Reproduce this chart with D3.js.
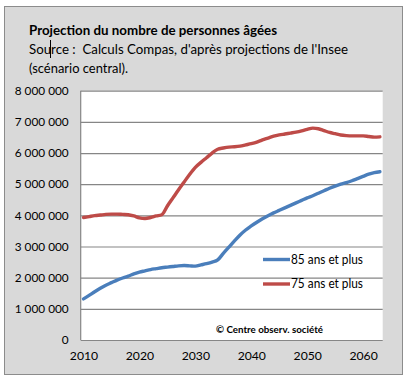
<!DOCTYPE html>
<html>
<head>
<meta charset="utf-8">
<script src="https://cdn.jsdelivr.net/npm/d3@7"></script>
<style>
  body { margin: 0; background: #fff; }
  svg text { font-family: Lato, "Open Sans", sans-serif; fill: #000; }
</style>
</head>
<body>
<svg id="chart" width="410" height="384"></svg>
<script>
// annees 2010 -> 2063, valeurs en millions
var years = d3.range(2010, 2064);
var plus75 = [3.93,3.96,3.99,4.01,4.03,4.04,4.04,4.03,4.02,3.98,
  3.92,3.90,3.93,3.98,4.02,4.30,4.56,4.82,5.07,5.32,
  5.54,5.70,5.85,6.00,6.12,6.16,6.19,6.20,6.22,6.26,
  6.30,6.35,6.42,6.48,6.54,6.58,6.61,6.64,6.67,6.71,
  6.76,6.80,6.78,6.72,6.66,6.62,6.58,6.56,6.55,6.55,
  6.55,6.53,6.51,6.52];
var plus85 = [1.32,1.43,1.55,1.66,1.76,1.84,1.92,1.99,2.05,2.12,
  2.18,2.22,2.26,2.29,2.32,2.34,2.36,2.38,2.39,2.38,
  2.37,2.41,2.45,2.50,2.57,2.78,2.98,3.18,3.37,3.53,
  3.66,3.78,3.89,3.99,4.08,4.16,4.24,4.32,4.40,4.48,
  4.56,4.63,4.71,4.79,4.87,4.94,5.00,5.05,5.11,5.18,
  5.25,5.32,5.37,5.40];
var yTicks = [0,1e6,2e6,3e6,4e6,5e6,6e6,7e6,8e6];
var xTicks = [2010,2020,2030,2040,2050,2060];
var series = [
  {name: '85 ans et plus', values: plus85, color: '#4a7ebb'},
  {name: '75 ans et plus', values: plus75, color: '#be4b48'}
];

var svg = d3.select('#chart');

// cadre gris
svg.append('rect')
  .attr('x', 4.5).attr('y', 6.5).attr('width', 398).attr('height', 368)
  .attr('fill', '#d9d9d9').attr('stroke', '#8c8c8c');

var pLeft = 80.7, pRight = 382.7, pTop = 90.7, pBottom = 340;

var x = d3.scaleLinear().domain([2009.5, 2063.5]).range([pLeft, pRight]);
var y = d3.scaleLinear().domain([0, 8e6]).range([pBottom, pTop]);

var fr = d3.formatLocale({decimal: ',', thousands: '\u00a0', grouping: [3], currency: ['', ' €']});
var fmt = fr.format(',');

svg.append('rect')
  .attr('x', pLeft).attr('y', pTop)
  .attr('width', pRight - pLeft).attr('height', pBottom - pTop)
  .attr('fill', '#fff');

// grille
svg.append('g')
  .attr('transform', 'translate(' + pLeft + ',0)')
  .call(d3.axisLeft(y).tickValues(yTicks).tickSize(-(pRight - pLeft)).tickFormat(fmt).tickPadding(12))
  .call(function(g){
    g.select('.domain').remove();
    g.selectAll('.tick line').attr('stroke', '#868686').attr('stroke-width', 1.2);
    g.selectAll('.tick text').attr('font-size', 11.8).attr('font-family', 'Lato, sans-serif').attr('fill', '#000');
  });

svg.append('g')
  .attr('transform', 'translate(0,' + pBottom + ')')
  .call(d3.axisBottom(x).tickValues(xTicks).tickSize(0).tickFormat(d3.format('d')).tickPadding(11))
  .call(function(g){
    g.select('.domain').remove();
    g.selectAll('.tick text').attr('font-size', 12.2).attr('font-family', 'Lato, sans-serif').attr('fill', '#000');
  });

// axe vertical
svg.append('line')
  .attr('x1', pLeft).attr('x2', pLeft).attr('y1', pTop).attr('y2', pBottom)
  .attr('stroke', '#868686').attr('stroke-width', 1.2);

var line = d3.line()
  .x(function(d, i){ return x(years[i]); })
  .y(function(d){ return y(d * 1e6); })
  .curve(d3.curveMonotoneX);

series.slice().reverse().forEach(function(s){
  svg.append('path')
    .datum(s.values)
    .attr('d', line)
    .attr('fill', 'none')
    .attr('stroke', s.color)
    .attr('stroke-width', 3.4)
    .attr('stroke-linecap', 'round')
    .attr('stroke-linejoin', 'round');
});

// legende
series.forEach(function(s, i){
  var ly = 259.5 + i * 24.5;
  svg.append('line')
    .attr('x1', 263).attr('x2', 290).attr('y1', ly).attr('y2', ly)
    .attr('stroke', s.color).attr('stroke-width', 3.4);
  svg.append('text')
    .attr('x', 291).attr('y', ly + 4.3)
    .attr('font-size', 12.6)
    .attr('textLength', 72).attr('lengthAdjust', 'spacingAndGlyphs')
    .text(s.name);
});

svg.append('text')
  .attr('x', 216).attr('y', 332.5)
  .attr('font-size', 9.6).attr('font-weight', 'bold')
  .attr('textLength', 107).attr('lengthAdjust', 'spacingAndGlyphs')
  .text('© Centre observ. société');

// titres
svg.append('text')
  .attr('x', 29).attr('y', 34.5)
  .attr('font-size', 13.4).attr('font-weight', 'bold')
  .attr('textLength', 248).attr('lengthAdjust', 'spacingAndGlyphs')
  .text('Projection du nombre de personnes âgées');

svg.append('text')
  .attr('x', 29).attr('y', 53.5)
  .attr('font-size', 13.8)
  .attr('textLength', 319).attr('lengthAdjust', 'spacingAndGlyphs')
  .text("Source :\u00a0 Calculs Compas, d'après projections de l'Insee");

svg.append('text')
  .attr('x', 29).attr('y', 72.5)
  .attr('font-size', 13.8)
  .attr('textLength', 99).attr('lengthAdjust', 'spacingAndGlyphs')
  .text('(scénario central).');

// curseur de texte visible dans l'original
svg.append('line')
  .attr('x1', 50.5).attr('x2', 50.5).attr('y1', 40).attr('y2', 58)
  .attr('stroke', '#000').attr('stroke-width', 1);
</script>
</body>
</html>
